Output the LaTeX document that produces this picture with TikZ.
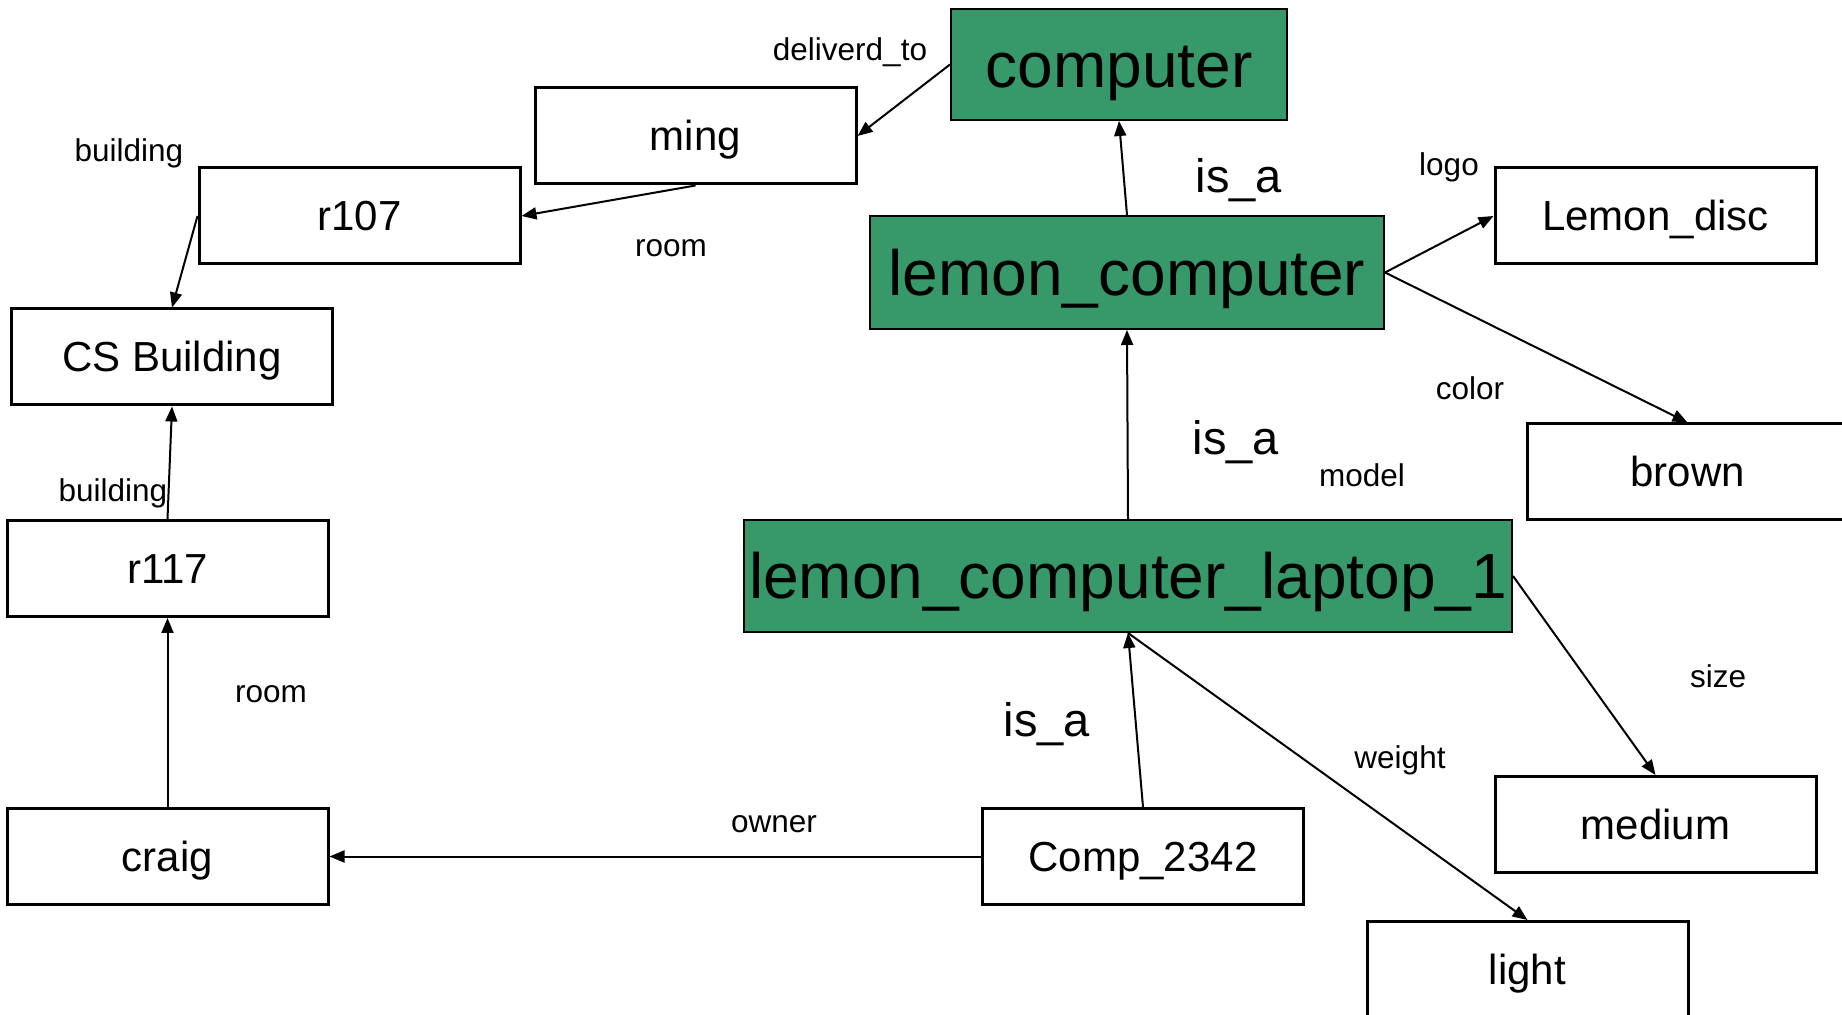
\documentclass[tikz,border=0pt]{standalone}
\usepackage{fontspec}
\setmainfont{Liberation Sans}
\usetikzlibrary{arrows.meta}
\definecolor{classgreen}{RGB}{55,152,105}
\tikzset{
  x=0.5pt, y=-0.5pt,
  inst/.style={draw=black, line width=1.5pt, fill=white, inner sep=0pt,
    minimum width=160.5pt, minimum height=48pt,
    text height=15pt, text depth=0pt,
    font=\fontsize{21}{25}\selectfont},
  cls/.style={draw=black, line width=1pt, fill=classgreen, inner sep=0pt,
    text height=23pt, text depth=0pt,
    font=\fontsize{32}{38}\selectfont},
  rel/.style={draw=black, line width=1pt, -{Triangle[length=7.5pt,width=6pt]}},
  lbl/.style={anchor=base, inner sep=0pt, font=\fontsize{15.75}{19}\selectfont},
  isa/.style={anchor=base, inner sep=0pt, font=\fontsize{23.5}{28}\selectfont},
}
\begin{document}
\begin{tikzpicture}
\useasboundingbox[fill=white] (0,0) rectangle (1842,1015);

% class nodes
\node[cls, minimum width=168pt, minimum height=55.5pt] (computer) at (1119,64.5) {computer};
\node[cls, minimum width=257pt, minimum height=56.5pt] (lemon) at (1127,272.5) {lemon\_computer};
\node[cls, minimum width=384pt, minimum height=56pt] (laptop) at (1128,576) {lemon\_computer\_laptop\_1};

% instance nodes
\node[inst] (ming) at (695.5,136) {ming};
\node[inst] (r107) at (359.5,216) {r107};
\node[inst] (csb) at (172,357) {CS Building};
\node[inst] (r117) at (167.5,568.5) {r117};
\node[inst] (craig) at (167.5,856.5) {craig};
\node[inst] (comp) at (1143,856.5) {Comp\_2342};
\node[inst] (disc) at (1655.5,216) {Lemon\_disc};
\node[inst] (brown) at (1687.5,472) {brown};
\node[inst] (medium) at (1655.5,824.5) {medium};
\node[inst] (light) at (1527.5,969.5) {light};

% relations
\draw[rel] (computer.west) -- (ming.east);
\draw[rel] (ming.south) -- (r107.east);
\draw[rel] (r107.west) -- (csb.north);
\draw[rel] (r117.north) -- (csb.south);
\draw[rel] (craig.north) -- (r117.south);
\draw[rel] (comp.west) -- (craig.east);
\draw[rel] (comp.north) -- (laptop.south);
\draw[rel] (laptop.south) -- (light.north);
\draw[rel] (laptop.east) -- (medium.north);
\draw[rel] (laptop.north) -- (lemon.south);
\draw[rel] (lemon.north) -- (computer.south);
\draw[rel] (lemon.east) -- (disc.west);
\draw[rel] (lemon.east) -- (brown.north);

% relation labels
\node[lbl] (l-deliv) at (850,61) {deliverd\_to};
\node[lbl] (l-bld1) at (129,162) {building};
\node[lbl] (l-room1) at (671,257) {room};
\node[lbl] (l-bld2) at (113,502) {building};
\node[lbl] (l-room2) at (271,703) {room};
\node[lbl] (l-owner) at (774,832) {owner};
\node[lbl] (l-weight) at (1400,768) {weight};
\node[lbl] (l-size) at (1718,688) {size};
\node[lbl] (l-logo) at (1449,176) {logo};
\node[lbl] (l-color) at (1470,400) {color};
\node[lbl] (l-model) at (1362,487) {model};
\node[isa] (l-isa1) at (1239,193) {is\_a};
\node[isa] (l-isa2) at (1236,455) {is\_a};
\node[isa] (l-isa3) at (1047,736) {is\_a};
\end{tikzpicture}
\end{document}
